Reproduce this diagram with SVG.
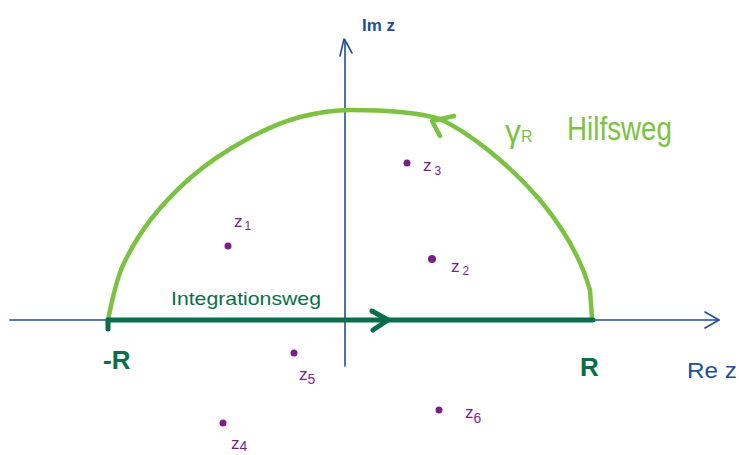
<svg xmlns="http://www.w3.org/2000/svg" width="739" height="455" viewBox="0 0 739 455">
<style>
.axis{stroke:#1f4f96;stroke-width:1.6;fill:none;stroke-linecap:round;stroke-linejoin:round}
.int{stroke:#0b6e4a;stroke-width:5;fill:none;stroke-linecap:round;stroke-linejoin:round}
.arc{stroke:#7cc242;stroke-width:4.5;fill:none;stroke-linecap:round;stroke-linejoin:round}
.pt{fill:#7a1f86}
.lbl{font-family:"Liberation Sans",Arial,sans-serif;fill:#7a1f86;font-size:17px}
.ax{font-family:"Liberation Sans",Arial,sans-serif;fill:#1f4f96}
.dg{font-family:"Liberation Sans",Arial,sans-serif;fill:#0b6e4a}
.lg{font-family:"Liberation Sans",Arial,sans-serif;fill:#7cc242}
</style>
<rect width="739" height="455" fill="#ffffff"/>
<g id="connectors">
  <g id="axes">
    <path class="axis" d="M10 320 L719 320"/>
    <path class="axis" d="M705 312 L719 320 L705 328"/>
    <path class="axis" d="M345 366 L345 40"/>
    <path class="axis" d="M340 56 L344 39 L346 42 L352 53"/>
  </g>
  <g id="hilfsweg">
    <path class="arc" d="M108 320 C112 300 118 275 124 263 C140 230 160 205 190 178 C225 148 270 125 300 117 C320 112 335 110 350 110 C390 110 420 113 440 119 C470 133 510 165 540 200 C565 230 582 262 590 290 L592 318"/>
    <path class="arc" d="M454 116 L432 121 L440 136"/>
  </g>
  <g id="integrationsweg">
    <path class="int" d="M108 320 L593 320"/>
    <path class="int" d="M108 320 L108 329"/>
    <path class="int" d="M372 311 L388 320 L373 330"/>
  </g>
</g>
<g id="label-im"><text class="ax" x="362" y="31" font-size="17" font-weight="bold">Im z</text></g>
<g id="label-re"><text class="ax" x="687" y="378" font-size="22" textLength="50" lengthAdjust="spacingAndGlyphs">Re z</text></g>
<g id="label-minusR"><text class="dg" x="103" y="369" font-size="26" font-weight="bold">-R</text></g>
<g id="label-R"><text class="dg" x="580" y="376" font-size="26" font-weight="bold">R</text></g>
<g id="label-integrationsweg"><text class="dg" x="171" y="305" font-size="19" textLength="150" lengthAdjust="spacingAndGlyphs">Integrationsweg</text></g>
<g id="label-hilfsweg"><text class="lg" x="505" y="142" font-size="32">γ<tspan font-size="16">R</tspan></text><text class="lg" x="567" y="140" font-size="34" textLength="105" lengthAdjust="spacingAndGlyphs">Hilfsweg</text></g>
<g id="z1"><circle class="pt" cx="228" cy="246" r="3.5"/><text class="lbl" x="234" y="227">z<tspan font-size="12" dy="3" dx="2">1</tspan></text></g>
<g id="z2"><circle class="pt" cx="432" cy="259" r="4"/><text class="lbl" x="451" y="272">z<tspan font-size="12" dy="3" dx="3">2</tspan></text></g>
<g id="z3"><circle class="pt" cx="407" cy="163" r="3.5"/><text class="lbl" x="423" y="171">z<tspan font-size="12" dy="4" dx="3">3</tspan></text></g>
<g id="z4"><circle class="pt" cx="223" cy="423" r="3.5"/><text class="lbl" x="231" y="449">z<tspan font-size="14" dy="2">4</tspan></text></g>
<g id="z5"><circle class="pt" cx="294" cy="353" r="3.5"/><text class="lbl" x="299" y="380">z<tspan font-size="14" dy="4">5</tspan></text></g>
<g id="z6"><circle class="pt" cx="439" cy="410" r="3.5"/><text class="lbl" x="465" y="418">z<tspan font-size="14" dy="5">6</tspan></text></g>
</svg>
